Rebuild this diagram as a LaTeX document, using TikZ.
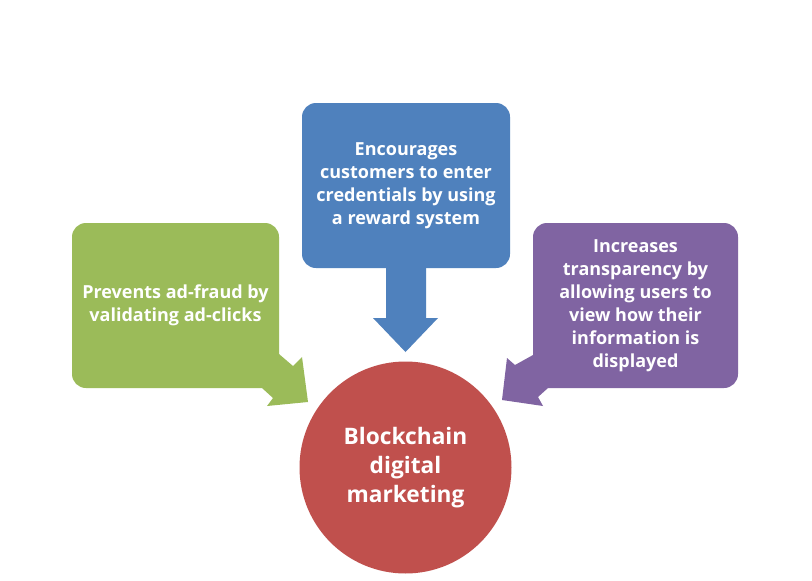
\documentclass[tikz,border=0pt]{standalone}
\usepackage{fontspec}
\setmainfont{Open Sans}
\definecolor{cgreen}{HTML}{9BBB59}
\definecolor{cblue}{HTML}{4F81BD}
\definecolor{cpurple}{HTML}{8064A2}
\definecolor{cred}{HTML}{C0504D}
\tikzset{
  callout/.style={rounded corners=14pt, inner sep=0pt, align=center, text=white,
    font=\fontsize{18}{23}\selectfont\bfseries},
  hub/.style={circle, inner sep=0pt, minimum size=212pt, fill=cred, align=center, text=white,
    font=\fontsize{22.7}{29}\selectfont\bfseries}
}
\begin{document}
\begin{tikzpicture}[x=1pt,y=-1pt]
\useasboundingbox (0,0) rectangle (812,581);
\fill[white] (0,0) rectangle (812,581);
% arrows
\fill[cgreen] (279,354) -- (293,366) -- (302,357) -- (308,402) -- (267,406) -- (273,398) -- (262,388) -- (262,354) -- cycle;
\fill[cpurple] (533,355) -- (515,365) -- (507,358) -- (502,400) -- (543,406) -- (538,397) -- (548,388) -- (548,355) -- cycle;
\fill[cblue] (386,260) -- (386,318) -- (373,318) -- (405.5,352) -- (438,318) -- (426,318) -- (426,260) -- cycle;
% boxes
\node[callout, fill=cgreen, minimum width=207pt, minimum height=165pt] (fraud) at (175.5,305.5)
  {Prevents ad-fraud by\\validating ad-clicks};
\node[callout, fill=cblue, minimum width=208pt, minimum height=165pt] (reward) at (406,185.5)
  {Encourages\\customers to enter\\credentials by using\\a reward system};
\node[callout, fill=cpurple, minimum width=205pt, minimum height=165pt] (transp) at (635.5,305.5)
  {Increases\\transparency by\\allowing users to\\view how their\\information is\\displayed};
\node[hub] (hub) at (405.5,467.5) {Blockchain\\digital\\marketing};
\end{tikzpicture}
\end{document}
